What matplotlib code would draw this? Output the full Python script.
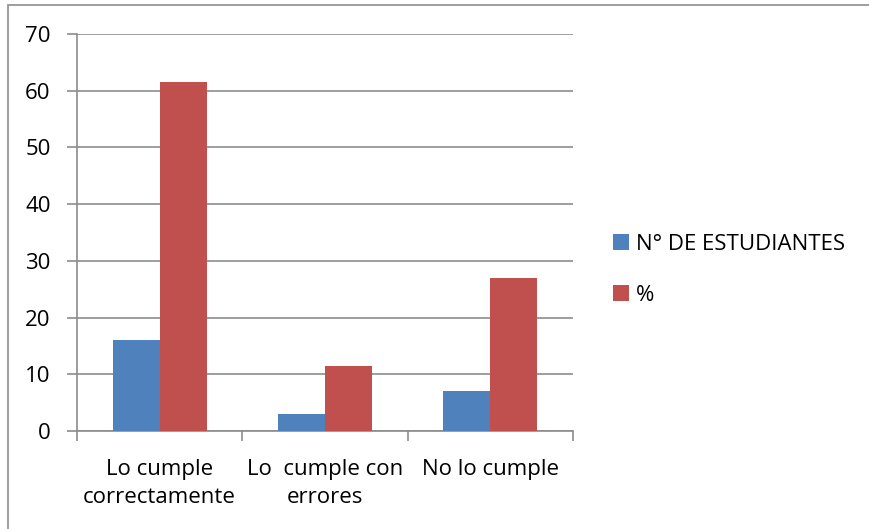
import matplotlib.pyplot as plt
import numpy as np
from matplotlib.patches import Rectangle

categories = ['Lo cumple\ncorrectamente', 'Lo  cumple con\nerrores', 'No lo cumple']
n_estudiantes = [16, 3, 7]
porcentaje = [61.5, 11.5, 26.9]
series_names = ['N° DE ESTUDIANTES', '%']
yticks = [0, 10, 20, 30, 40, 50, 60, 70]

plt.rcParams['font.family'] = ['Open Sans', 'DejaVu Sans']
FS = 16

fig = plt.figure(figsize=(8.7, 5.29), dpi=100)
ax = fig.add_axes([77 / 870, 1 - 431 / 529, (573 - 77) / 870, (431 - 34) / 529])

# outer chart frame (right and bottom edges run off the canvas)
fig.patches.append(Rectangle((8 / 870, -10 / 529), 880 / 870, 534 / 529,
                             transform=fig.transFigure, fill=False,
                             edgecolor='#8c8c8c', linewidth=1.2))

x = np.arange(len(categories))
w = 0.285
ax.bar(x - w / 2, n_estudiantes, w, color='#4f81bd', label=series_names[0], zorder=3)
ax.bar(x + w / 2, porcentaje, w, color='#c0504d', label=series_names[1], zorder=3)

ax.set_xlim(-0.5, len(categories) - 0.5)
ax.set_ylim(0, 70)
ax.set_yticks(yticks)
ax.yaxis.grid(True, color='#8c8c8c', linewidth=1.2, zorder=0)
ax.set_axisbelow(True)

for side in ['top', 'right']:
    ax.spines[side].set_visible(False)
for side in ['left', 'bottom']:
    ax.spines[side].set_color('#8c8c8c')
    ax.spines[side].set_linewidth(1.2)

# category boundary ticks on the x axis
ax.set_xticks(np.arange(len(categories) + 1) - 0.5)
ax.set_xticklabels([])
ax.tick_params(axis='x', length=7, color='#8c8c8c', width=1.2)
ax.tick_params(axis='y', length=7, color='#8c8c8c', width=1.2, labelsize=FS, pad=12)
for xi, lab in zip(x, categories):
    ax.annotate(lab, (xi, 0), xytext=(0, -20), textcoords='offset points',
                ha='center', va='top', fontsize=FS, linespacing=1.45)

leg = ax.legend(loc='center left', bbox_to_anchor=(613 / 870, 1 - 270 / 529),
                bbox_transform=fig.transFigure, frameon=False,
                fontsize=FS, handlelength=0.7, handleheight=0.7, handletextpad=0.35,
                labelspacing=1.35, borderpad=0, borderaxespad=0)

fig.savefig('out.png', dpi=100)
